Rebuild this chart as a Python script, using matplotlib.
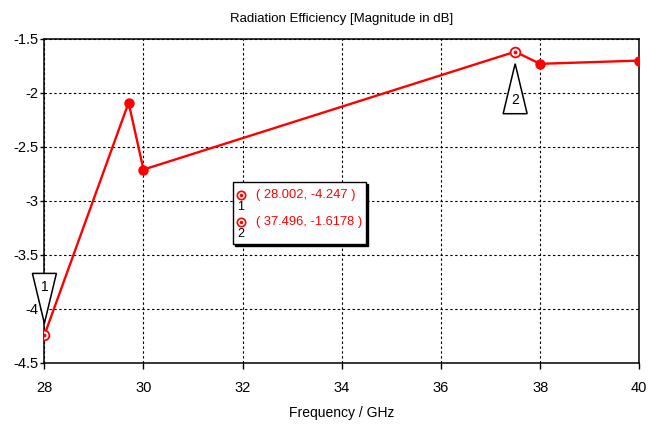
import matplotlib

matplotlib.use("Agg")
import matplotlib.pyplot as plt
from matplotlib.patches import Polygon, Rectangle

plt.rcParams["font.family"] = ["Liberation Sans Narrow", "Liberation Sans", "DejaVu Sans"]

# simulated radiation efficiency samples
FREQ = [28.0, 29.7, 30.0, 37.496, 38.0, 40.0]
EFF_DB = [-4.247, -2.09, -2.71, -1.6178, -1.73, -1.70]
FILLED = [False, True, True, False, True, True]

# markers shown on the curve
MARK_ID = ["1", "2"]
MARK_X = [28.002, 37.496]
MARK_Y = [-4.247, -1.6178]

XTICKS = [28, 30, 32, 34, 36, 38, 40]
YTICKS = [-1.5, -2, -2.5, -3, -3.5, -4, -4.5]
RED = "#ff0000"

W, H = 659, 425
fig = plt.figure(figsize=(W / 100, H / 100), dpi=100)
ax = fig.add_axes([44.3 / W, 1 - 362.7 / H, 595 / W, 323.7 / H])

ax.plot(FREQ, EFF_DB, color=RED, lw=1.7, zorder=3)
for x, y, f in zip(FREQ, EFF_DB, FILLED):
    if f:
        ax.plot(x, y, "o", color=RED, ms=6.5, zorder=4)
for x, y in zip(MARK_X, MARK_Y):
    ax.plot(x, y, "o", mfc="white", mec=RED, mew=1.3, ms=7, zorder=5)
    ax.plot(x, y, "o", color=RED, ms=1.8, zorder=6)

ax.set_xlim(28, 40)
ax.set_ylim(-4.5, -1.5)
ax.set_xticks(XTICKS)
ax.set_yticks(YTICKS)
ax.set_yticklabels([f"{v:g}" for v in YTICKS])
ax.grid(True, color="black", ls=(0, (2.2, 2.2)), lw=0.8)
ax.tick_params(axis="x", length=4, width=1, pad=9, labelsize=10.5)
ax.tick_params(axis="y", length=3, width=1, pad=1.5, labelsize=10.5)
for s in ax.spines.values():
    s.set_linewidth(1.1)

ax.set_title("Radiation Efficiency [Magnitude in dB]", fontsize=9.5, pad=12)
ax.set_xlabel("Frequency / GHz", fontsize=10, labelpad=8)

# marker flags, drawn in pixel units around each marked point
fig.canvas.draw()
for i, (mid, x, y) in enumerate(zip(MARK_ID, MARK_X, MARK_Y)):
    px, py = ax.transData.transform((x, y))
    sgn = 1 if i == 0 else -1
    tip = py + sgn * 12
    base = py + sgn * 62
    tri = Polygon([(px - 12, base), (px + 12, base), (px, tip)], closed=True,
                  fc="white", ec="black", lw=1.1, transform=None, zorder=7)
    fig.add_artist(tri)
    fig.text(px / W, (py + sgn * 48) / H, mid, ha="center", va="center",
             fontsize=10, transform=fig.transFigure, zorder=8)

# marker readout box
bx0, bx1, by0, by1 = 233, 366, 182, 244
fig.add_artist(Rectangle((bx0 + 2, H - by1 - 2), bx1 - bx0, by1 - by0, transform=None,
                         fc="black", ec="black", zorder=8))
fig.add_artist(Rectangle((bx0, H - by1), bx1 - bx0, by1 - by0, transform=None,
                         fc="white", ec="black", lw=1, zorder=9))
for k, (mid, x, y) in enumerate(zip(MARK_ID, MARK_X, MARK_Y)):
    ry = H - (195 + 27 * k)
    fig.add_artist(plt.Line2D([241], [ry], marker="o", mfc="white", mec=RED, mew=1.2,
                              ms=6, transform=None, zorder=10))
    fig.add_artist(plt.Line2D([241], [ry], marker="o", color=RED, ms=1.5,
                              transform=None, zorder=11))
    fig.text(241 / W, (ry - 12) / H, mid, ha="center", va="center", fontsize=9, zorder=10)
    fig.text(256 / W, ry / H, f"( {x:.3f}, {y:g} )" if k == 0 else f"( {x:.3f}, {y:.4f} )",
             ha="left", va="center", fontsize=9.3, color=RED, zorder=10)

fig.savefig("out.png", dpi=100)
